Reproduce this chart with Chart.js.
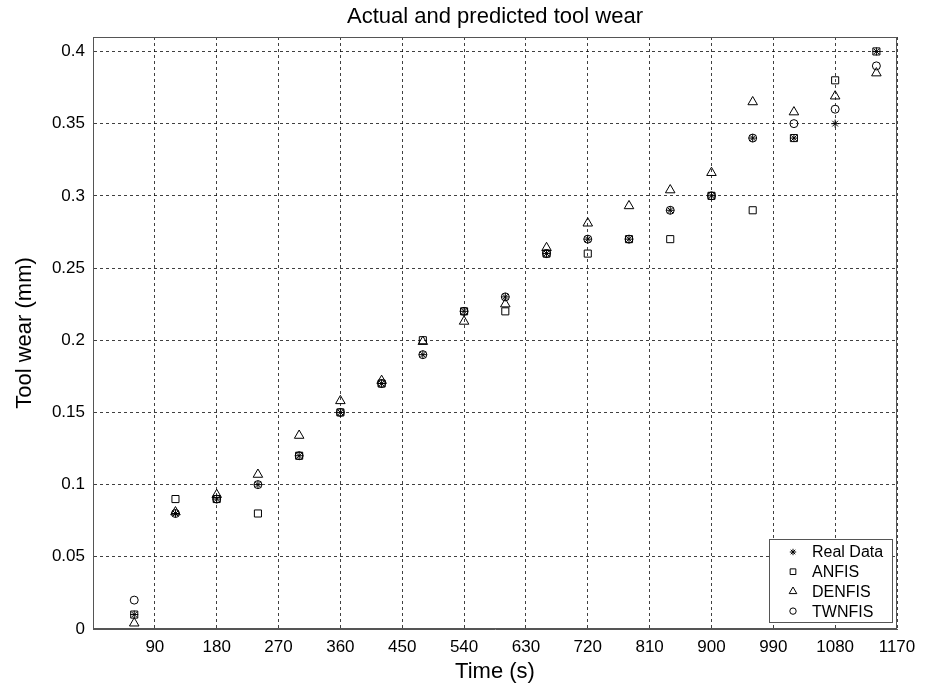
<!DOCTYPE html>
<html>
<head>
<meta charset="utf-8">
<title>Actual and predicted tool wear</title>
<script src="https://cdn.jsdelivr.net/npm/chart.js@4.4.0/dist/chart.umd.min.js"></script>
<style>
  body { margin: 0; background: #fff; }
  #wrap { width: 935px; height: 690px; }
</style>
</head>
<body>
<div id="wrap"><canvas id="wearChart"></canvas></div>
<script>
// Time of each measurement (s)
const times = [60, 120, 180, 240, 300, 360, 420, 480, 540, 600, 660, 720, 780, 840, 900, 960, 1020, 1080, 1140];

// Tool wear (mm)
const realData = [0.01, 0.08, 0.09, 0.10, 0.12, 0.15, 0.17, 0.19, 0.22, 0.23, 0.26, 0.27, 0.27, 0.29, 0.30, 0.34, 0.34, 0.35, 0.40];
const anfis = [0.01, 0.09, 0.09, 0.08, 0.12, 0.15, 0.17, 0.20, 0.22, 0.22, 0.26, 0.26, 0.27, 0.27, 0.30, 0.29, 0.34, 0.38, 0.40];
const denfis = [0.004, 0.081, 0.093, 0.107, 0.134, 0.158, 0.172, 0.199, 0.213, 0.225, 0.264, 0.281, 0.293, 0.304, 0.316, 0.365, 0.358, 0.369, 0.385];
const twnfis = [0.02, 0.08, 0.09, 0.10, 0.12, 0.15, 0.17, 0.19, 0.22, 0.23, 0.26, 0.27, 0.27, 0.29, 0.30, 0.34, 0.35, 0.36, 0.39];

const seriesLabels = ["Real Data", "ANFIS", "DENFIS", "TWNFIS"];
const yTicks = [0, 0.05, 0.1, 0.15, 0.2, 0.25, 0.3, 0.35, 0.4];
const FONT = "'Liberation Sans', Arial, Helvetica, sans-serif";

function toPoints(values) {
  return times.map((t, i) => ({ x: t, y: values[i] }));
}

function markerSet(label, values, style, radius) {
  return {
    label: label,
    data: toPoints(values),
    pointStyle: style,
    pointRadius: radius,
    pointBorderWidth: 1,
    borderColor: "#000",
    backgroundColor: "rgba(0,0,0,0)",
    pointBackgroundColor: "rgba(0,0,0,0)",
    showLine: false,
  };
}

// box round the plot area (MATLAB style)
const frameBox = {
  id: "frameBox",
  afterDatasetsDraw(chart) {
    const { ctx, chartArea: a } = chart;
    ctx.save();
    ctx.strokeStyle = "#555";
    ctx.lineWidth = 1;
    ctx.strokeRect(a.left + 0.5, a.top + 0.5, a.right - a.left - 1, a.bottom - a.top - 1);
    ctx.restore();
  },
};

// legend drawn inside the plot, lower right
const insideLegend = {
  id: "insideLegend",
  afterDraw(chart) {
    const { ctx, chartArea: a } = chart;
    const w = 123, h = 83;
    const x0 = a.right - 5 - w;
    const y0 = a.bottom - 7 - h;
    ctx.save();
    ctx.fillStyle = "#fff";
    ctx.fillRect(x0, y0, w, h);
    ctx.strokeStyle = "#555";
    ctx.lineWidth = 1;
    ctx.strokeRect(x0 + 0.5, y0 + 0.5, w, h);
    ctx.font = "16px " + FONT;
    ctx.textBaseline = "middle";
    chart.data.datasets.forEach((ds, i) => {
      const y = y0 + 13 + i * 19.7;
      ctx.strokeStyle = "#000";
      ctx.fillStyle = "rgba(0,0,0,0)";
      ctx.lineWidth = 1;
      Chart.helpers.drawPoint(ctx, {
        pointStyle: ds.pointStyle,
        radius: ds.pointRadius * 0.8,
        rotation: 0,
        borderWidth: 1,
      }, x0 + 24, y);
      ctx.fillStyle = "#000";
      ctx.fillText(ds.label, x0 + 43, y + 1);
    });
    ctx.restore();
  },
};

const gridColor = "rgba(0,0,0,0.75)";

new Chart(document.getElementById("wearChart"), {
  type: "scatter",
  data: {
    datasets: [
      markerSet(seriesLabels[0], realData, "star", 4),
      markerSet(seriesLabels[1], anfis, "rect", 5),
      markerSet(seriesLabels[2], denfis, "triangle", 5.5),
      markerSet(seriesLabels[3], twnfis, "circle", 4),
    ],
  },
  options: {
    responsive: true,
    maintainAspectRatio: false,
    animation: false,
    layout: { padding: { left: 0, right: 38, top: 0, bottom: 0 } },
    plugins: {
      legend: { display: false },
      tooltip: { enabled: false },
      title: {
        display: true,
        text: "Actual and predicted tool wear",
        fullSize: false,
        color: "#000",
        font: { family: FONT, size: 22, weight: "normal" },
        padding: { top: 4, bottom: 6.6 },
      },
    },
    scales: {
      x: {
        type: "linear",
        min: 0,
        max: 1170,
        afterFit(scale) { scale.height = 61; },
        ticks: {
          stepSize: 90,
          color: "#000",
          padding: 8,
          maxRotation: 0,
          font: { family: FONT, size: 17 },
          callback: (v) => (v === 0 ? "" : v),
        },
        grid: { color: gridColor, lineWidth: 1, drawTicks: false },
        border: { display: true, color: "#555", width: 1, dash: [3, 3] },
        title: {
          display: true,
          text: "Time (s)",
          color: "#000",
          font: { family: FONT, size: 22 },
          padding: { top: 0, bottom: 5 },
        },
      },
      y: {
        type: "linear",
        min: 0,
        max: 0.41,
        afterFit(scale) { scale.width = 93; },
        afterBuildTicks(scale) {
          scale.ticks = yTicks.map((v) => ({ value: v }));
        },
        ticks: {
          color: "#000",
          padding: 8,
          font: { family: FONT, size: 17 },
          callback: (v) => String(parseFloat(v.toFixed(2))),
        },
        grid: { color: gridColor, lineWidth: 1, drawTicks: false },
        border: { display: true, color: "#555", width: 1, dash: [3, 3] },
        title: {
          display: true,
          text: "Tool wear (mm)",
          color: "#000",
          font: { family: FONT, size: 22 },
          padding: { top: 12, bottom: 0 },
        },
      },
    },
  },
  plugins: [frameBox, insideLegend],
});
</script>
</body>
</html>
